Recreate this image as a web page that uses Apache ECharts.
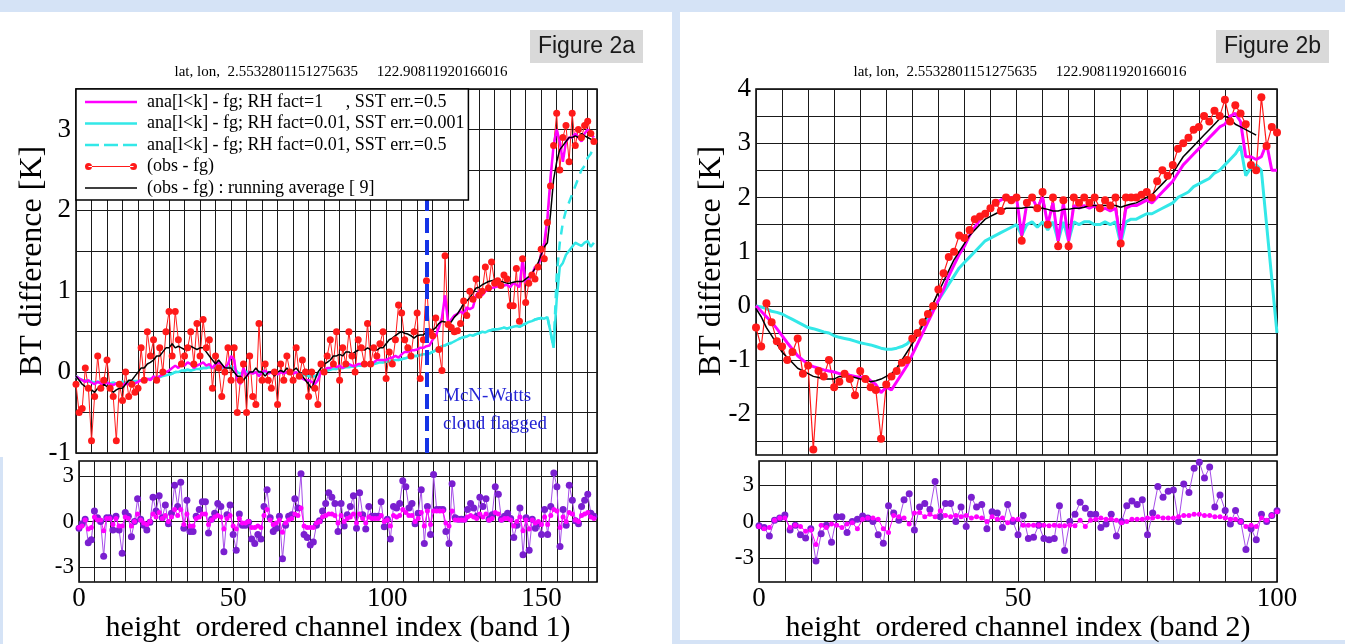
<!DOCTYPE html>
<html><head><meta charset="utf-8">
<script src="https://cdn.jsdelivr.net/npm/echarts@6/dist/echarts.min.js"></script>
<style>
html,body{margin:0;padding:0;background:#d5e3f6;overflow:hidden;}
.pan{position:absolute;background:#fff;}
#c{position:absolute;left:0;top:0;width:1345px;height:644px;}
</style>
</head><body>
<div class="pan" style="left:0;top:12px;width:672px;height:632px"></div>
<div class="pan" style="left:0;top:457px;width:3px;height:187px;background:#d5e3f6"></div>
<div class="pan" style="left:680px;top:12px;width:665px;height:628px"></div>
<div id="c"></div>
<script>
// ---------------- DATA ----------------
const titleText = 'lat, lon,  2.5532801151275635     122.90811920166016';
const yName = 'BT difference [K]';
const xNameA = 'height  ordered channel index (band 1)';
const xNameB = 'height  ordered channel index (band 2)';
const figA = 'Figure 2a', figB = 'Figure 2b';
const names = ['ana[l<k] - fg; RH fact=1     , SST err.=0.5',
               'ana[l<k] - fg; RH fact=0.01, SST err.=0.001',
               'ana[l<k] - fg; RH fact=0.01, SST err.=0.5',
               '(obs - fg)',
               '(obs - fg) : running average [ 9]'];
const flagIdxA = 113;
const flagText = 'McN-Watts\ncloud flagged';

// band 1 (top panel)
const magA = [-0.05,-0.08,-0.1,-0.12,-0.1,-0.13,-0.15,-0.12,-0.14,-0.15,
 -0.13,-0.15,-0.16,-0.14,-0.15,-0.16,-0.14,-0.15,-0.13,-0.14,
 -0.12,-0.1,-0.12,-0.08,-0.1,-0.05,-0.08,-0.05,-0.03,0.0,
 0.02,0.05,0.08,0.05,0.1,0.08,0.12,0.1,0.05,0.08,
 0.1,0.12,0.08,0.1,0.05,0.1,0.12,0.08,0.05,0.1,
 0.2,0.15,-0.1,-0.15,0.05,-0.05,0.0,-0.02,0.0,-0.05,
 0.0,0.02,-0.02,0.0,0.0,-0.03,0.0,-0.02,0.0,0.0,
 -0.02,0.0,-0.05,-0.08,-0.1,-0.1,-0.12,-0.15,-0.1,0.0,
 0.02,0.05,0.05,0.08,0.06,0.08,0.05,0.08,0.1,0.08,
 0.08,0.1,0.1,0.12,0.1,0.12,0.12,0.15,0.15,0.15,
 0.15,0.17,0.18,0.2,0.18,0.22,0.25,0.25,0.27,0.27,
 0.28,0.3,0.3,0.32,0.33,0.4,0.45,0.55,0.67,0.95,
 0.6,0.65,0.7,0.72,0.75,0.72,0.8,0.78,0.8,0.95,
 1.0,0.95,1.0,1.02,1.04,1.05,1.06,1.05,1.07,1.08,
 1.05,1.1,1.08,1.05,1.4,1.1,1.15,1.2,1.3,1.3,
 1.45,1.6,1.9,2.4,2.8,3.0,2.85,2.6,2.85,2.9,
 2.9,2.95,2.9,2.85,2.95,3.0,2.95,2.9];
const cyanA = [-0.05,-0.08,-0.1,-0.1,-0.12,-0.12,-0.13,-0.12,-0.13,-0.13,
 -0.13,-0.14,-0.13,-0.14,-0.13,-0.12,-0.13,-0.12,-0.12,-0.11,
 -0.11,-0.1,-0.1,-0.09,-0.08,-0.08,-0.06,-0.06,-0.05,-0.04,
 -0.03,-0.02,0.0,0.0,0.02,0.02,0.03,0.02,0.03,0.04,
 0.04,0.05,0.05,0.06,0.05,0.06,0.07,0.06,0.05,0.06,
 0.07,0.05,0.0,-0.02,0.0,0.0,0.0,-0.01,0.0,0.0,
 0.0,0.0,-0.01,0.0,0.0,-0.01,0.0,0.0,-0.01,0.0,
 0.0,-0.01,-0.02,-0.03,-0.04,-0.05,-0.05,-0.05,-0.03,0.0,
 0.0,0.02,0.03,0.04,0.04,0.05,0.05,0.06,0.06,0.07,
 0.07,0.08,0.08,0.09,0.09,0.1,0.1,0.11,0.12,0.12,
 0.13,0.13,0.14,0.15,0.15,0.16,0.17,0.18,0.19,0.2,
 0.2,0.21,0.22,0.22,0.23,0.25,0.27,0.3,0.32,0.33,
 0.35,0.36,0.38,0.4,0.42,0.43,0.44,0.46,0.45,0.47,
 0.48,0.5,0.49,0.51,0.52,0.53,0.53,0.54,0.55,0.54,
 0.55,0.56,0.57,0.56,0.58,0.6,0.62,0.63,0.65,0.66,
 0.67,0.66,0.68,0.5,0.3,0.9,1.3,1.35,1.45,1.5,
 1.55,1.6,1.58,1.56,1.6,1.62,1.55,1.6];
const cyanDashTailA = [0.3,1.2,1.6,1.85,2.0,2.1,2.2,2.3,2.4,2.5,2.55,2.65,2.7,2.8]; // channels 154..167
const obsA = [-0.15,-0.5,-0.45,0.05,-0.2,-0.85,-0.3,0.2,-0.2,-0.1,
 0.15,-0.2,-0.3,-0.85,-0.15,-0.35,0.0,-0.3,-0.15,-0.25,
 -0.2,0.3,-0.1,0.5,0.2,0.4,-0.1,0.3,0.0,0.5,
 0.75,0.2,0.75,0.4,0.1,0.2,0.3,0.5,0.1,0.6,
 0.2,0.65,0.3,0.4,-0.2,0.2,0.05,-0.3,0.0,0.3,
 -0.1,0.3,-0.5,-0.1,0.1,-0.5,0.2,-0.3,-0.4,0.6,
 -0.1,0.1,-0.1,-0.2,0.0,-0.4,0.1,-0.1,0.2,0.0,
 -0.1,0.3,-0.05,0.15,0.0,-0.3,0.0,-0.2,-0.4,0.1,
 0.0,0.2,0.4,0.1,0.5,-0.1,0.3,0.1,0.5,0.2,
 0.0,0.4,0.3,0.1,0.6,0.1,0.3,0.2,0.35,0.5,
 -0.08,0.25,0.1,0.4,0.83,0.73,0.4,0.3,0.2,0.5,
 0.73,-0.08,0.4,1.13,0.5,0.45,0.67,0.28,0.02,1.44,
 0.59,0.55,0.5,0.51,0.6,0.88,0.7,1.0,0.9,1.15,
 0.95,1.0,1.3,1.04,1.36,1.1,1.13,1.07,1.2,1.15,
 0.82,0.82,1.28,0.63,1.4,0.86,1.1,1.2,1.15,1.3,
 1.52,1.4,1.85,2.3,2.8,3.2,2.5,2.9,3.05,2.6,
 3.2,2.8,3.0,2.9,3.05,3.1,2.95,2.85];
const avgA = [-0.05,-0.1,-0.15,-0.18,-0.2,-0.22,-0.25,-0.2,-0.2,-0.15,
 -0.18,-0.2,-0.25,-0.22,-0.2,-0.2,-0.15,-0.1,-0.1,-0.05,
 0.0,0.05,0.05,0.1,0.12,0.15,0.2,0.2,0.25,0.3,
 0.3,0.35,0.3,0.32,0.3,0.28,0.3,0.32,0.3,0.28,
 0.3,0.3,0.25,0.2,0.15,0.1,0.15,0.1,0.05,0.05,
 0.05,0.0,-0.05,-0.05,-0.1,-0.05,0.0,0.0,0.05,0.0,
 0.0,-0.05,0.0,0.0,-0.05,0.0,0.02,0.0,0.05,0.0,
 0.02,0.05,0.0,-0.05,-0.1,-0.15,-0.2,-0.1,0.0,0.05,
 0.1,0.12,0.15,0.2,0.2,0.22,0.2,0.25,0.25,0.22,
 0.25,0.27,0.3,0.27,0.3,0.28,0.3,0.27,0.3,0.3,
 0.35,0.4,0.42,0.45,0.48,0.5,0.48,0.47,0.45,0.42,
 0.45,0.46,0.46,0.5,0.5,0.52,0.55,0.6,0.63,0.62,
 0.59,0.62,0.68,0.72,0.78,0.85,0.88,0.92,0.98,1.04,
 1.05,1.08,1.1,1.12,1.13,1.14,1.13,1.12,1.11,1.1,
 1.1,1.11,1.12,1.12,1.12,1.15,1.18,1.22,1.28,1.35,
 1.45,1.55,1.6,1.95,2.38,2.6,2.75,2.8,2.85,2.9,
 2.9,2.92,2.9,2.95,2.92,2.9,2.88,2.85];
// band 1 (lower panel)
const dObsA = [-0.45,-0.15,0.15,-1.4,-1.2,0.7,0.25,0.0,-2.3,0.25,
 0.25,-0.55,0.35,-0.55,-2.1,0.6,0.35,-1.0,0.0,1.5,
 0.15,-0.25,-0.55,-0.05,1.6,0.7,1.7,0.25,1.1,-0.15,
 0.55,2.4,1.0,2.6,-0.45,1.4,-0.65,-0.65,0.35,0.8,
 1.3,1.3,-0.75,0.15,0.55,1.2,1.0,-2.0,0.45,1.1,
 -0.85,-1.9,0.5,-0.25,-0.25,-0.05,-1.15,-1.45,-0.85,-1.15,
 1.0,2.1,0.25,-0.65,-0.45,0.35,-2.45,-0.25,0.35,0.45,
 1.5,0.9,3.15,-0.85,-1.05,-1.55,-1.35,-0.25,0.05,0.7,
 1.2,1.9,1.6,1.2,-0.65,1.2,-0.3,0.45,1.0,1.7,
 -0.45,1.9,0.45,-0.5,1.0,0.35,0.35,0.35,1.3,-0.35,
 0.15,-1.15,1.0,0.9,1.2,2.7,2.3,0.9,1.2,-0.15,
 0.55,2.1,-1.45,1.0,-0.85,3.1,0.8,0.8,0.8,-0.65,
 -1.45,2.5,0.25,0.15,0.15,0.15,0.8,1.2,0.9,0.35,
 1.6,1.0,1.5,0.15,0.45,2.3,1.8,0.15,0.35,0.55,
 0.2,-1.05,-0.25,0.9,-2.2,0.25,-1.9,0.15,-0.45,-0.15,
 -0.85,0.8,-0.85,1.0,3.2,2.3,-1.65,0.8,-0.25,2.4,
 1.4,0.05,-0.15,1.0,1.4,1.8,0.55,0.35];
const dAnaA = [-0.4,-0.3,0.1,-0.5,-0.4,0.3,0.1,0.1,-0.6,0.2,
 0.2,-0.2,0.2,-0.3,-0.3,0.3,0.2,-0.3,0.0,0.5,
 0.1,-0.1,-0.2,0.0,0.5,0.3,0.6,0.2,0.4,0.0,
 0.3,0.8,0.4,0.8,-0.2,0.5,-0.3,-0.3,0.2,0.3,
 0.5,0.5,-0.2,0.1,0.3,0.4,0.3,-0.5,0.2,0.4,
 -0.3,-0.5,0.2,-0.1,-0.1,0.0,-0.4,-0.4,-0.3,-0.4,
 0.4,0.8,0.1,-0.2,-0.1,0.1,-0.7,-0.1,0.1,0.2,
 0.5,0.4,0.9,-0.3,-0.4,-0.4,-0.4,-0.1,0.0,0.3,
 0.4,0.5,0.5,0.4,-0.1,0.4,0.0,0.2,0.3,0.5,
 -0.1,0.5,0.2,-0.1,0.3,0.2,0.2,0.2,0.4,0.0,
 0.1,-0.3,0.4,0.3,0.4,0.8,0.6,0.4,0.4,0.0,
 0.2,0.6,-0.3,0.7,-0.2,0.7,0.7,0.7,0.7,-0.1,
 -0.3,0.7,0.1,0.1,0.1,0.1,0.3,0.4,0.3,0.2,
 0.5,0.3,0.5,0.1,0.2,0.6,0.5,0.1,0.2,0.2,
 0.1,-0.3,0.0,0.3,-0.6,0.1,-0.5,0.1,-0.1,0.0,
 -0.2,0.3,-0.2,0.4,0.8,0.7,-0.4,0.3,0.0,0.6,
 0.5,0.1,0.0,0.4,0.5,0.6,0.3,0.2];

// band 2 (top panel)
const magB = [0.0,-0.1,-0.2,-0.3,-0.42,-0.55,-0.68,-0.8,-0.92,-1.0,
 -1.08,-1.12,-1.15,-1.18,-1.2,-1.22,-1.25,-1.25,-1.28,-1.3,
 -1.32,-1.3,-1.38,-1.45,-1.6,-1.5,-1.55,-1.4,-1.25,-1.1,
 -0.9,-0.7,-0.5,-0.3,-0.1,0.1,0.3,0.55,0.75,0.95,
 1.1,1.3,1.45,1.6,1.7,1.8,1.9,1.95,2.0,2.0,
 2.0,1.3,1.9,2.0,1.8,2.0,1.5,1.9,1.2,1.9,
 1.2,1.85,1.8,1.85,1.8,1.85,1.75,1.8,1.75,1.8,
 1.2,1.8,1.85,1.85,1.9,1.95,1.9,2.0,2.1,2.2,
 2.3,2.45,2.6,2.7,2.8,2.9,3.0,3.1,3.2,3.3,
 3.35,3.5,3.55,3.4,2.75,2.75,2.7,2.75,3.0,2.5,
 2.5];
const cyanB = [0.0,-0.02,-0.05,-0.1,-0.12,-0.15,-0.2,-0.25,-0.3,-0.35,
 -0.4,-0.42,-0.45,-0.48,-0.5,-0.55,-0.58,-0.6,-0.62,-0.65,
 -0.68,-0.7,-0.72,-0.75,-0.78,-0.8,-0.8,-0.78,-0.75,-0.7,
 -0.6,-0.5,-0.35,-0.2,-0.05,0.1,0.25,0.4,0.55,0.7,
 0.8,0.9,1.0,1.1,1.2,1.25,1.3,1.35,1.4,1.45,
 1.5,1.3,1.5,1.55,1.45,1.55,1.4,1.55,1.2,1.55,
 1.2,1.55,1.5,1.55,1.55,1.5,1.5,1.55,1.5,1.55,
 1.15,1.55,1.6,1.6,1.65,1.7,1.7,1.75,1.8,1.85,
 1.9,2.0,2.05,2.1,2.2,2.25,2.3,2.35,2.45,2.5,
 2.6,2.7,2.8,2.95,2.4,2.55,2.6,2.5,1.5,0.5,
 -0.5];
const obsB = [-0.4,-0.75,0.05,-0.3,-0.65,-0.75,-1.0,-0.85,-0.6,-1.25,
 -1.1,-2.65,-1.2,-1.3,-1.0,-1.5,-1.4,-1.25,-1.35,-1.65,
 -1.2,-1.35,-1.5,-1.55,-2.45,-1.45,-1.3,-1.2,-1.05,-1.0,
 -0.6,-0.5,-0.3,-0.15,0.0,0.3,0.6,0.9,1.0,1.3,
 1.25,1.4,1.6,1.65,1.7,1.8,1.9,1.75,2.0,1.95,
 2.0,1.2,1.9,2.0,1.8,2.1,1.5,2.0,1.1,1.95,
 1.1,2.0,1.9,2.0,1.9,2.0,1.8,1.95,1.85,2.0,
 1.15,2.0,2.0,2.0,2.05,2.1,2.0,2.3,2.5,2.4,
 2.6,2.9,3.0,3.1,3.25,3.3,3.5,3.4,3.6,3.5,
 3.8,3.4,3.7,3.55,3.35,2.6,2.5,3.85,2.95,3.3,
 3.2];
const avgB = [-0.05,-0.2,-0.4,-0.55,-0.7,-0.85,-0.95,-1.05,-1.15,-1.2,
 -1.25,-1.3,-1.32,-1.35,-1.35,-1.35,-1.3,-1.3,-1.3,-1.32,
 -1.35,-1.35,-1.4,-1.38,-1.35,-1.3,-1.25,-1.15,-1.0,-0.85,
 -0.7,-0.55,-0.35,-0.15,0.05,0.25,0.45,0.65,0.85,1.0,
 1.15,1.3,1.4,1.5,1.6,1.65,1.7,1.75,1.8,1.8,
 1.8,1.8,1.82,1.82,1.8,1.8,1.78,1.75,1.75,1.78,
 1.78,1.8,1.8,1.82,1.85,1.85,1.85,1.85,1.85,1.85,
 1.82,1.85,1.88,1.9,1.95,2.0,2.05,2.15,2.25,2.35,
 2.45,2.6,2.75,2.85,2.95,3.05,3.15,3.25,3.35,3.45,
 3.5,3.45,3.35,3.3,3.25,3.2,3.15];
// band 2 (lower panel)
const dObsB = [-0.35,-0.5,-1.2,0.1,0.3,0.55,-0.7,-0.3,-1.1,-1.35,
 -0.6,-3.25,-1.0,-0.3,-1.7,0.4,0.4,-0.9,0.0,0.2,
 0.45,0.3,0.0,-1.1,-1.8,1.3,0.7,0.1,1.8,2.3,
 -0.7,1.2,1.5,1.0,3.3,0.4,1.5,1.5,0.0,1.2,
 -0.4,2.0,1.2,1.4,-0.6,0.8,0.7,-0.5,1.4,0.0,
 -1.1,0.5,-1.4,-1.3,-0.3,-1.4,-1.5,-1.4,1.3,-2.4,
 0.0,0.6,1.6,1.1,0.6,0.6,-0.5,-0.2,0.6,-1.2,
 0.0,1.3,1.7,1.4,1.8,-1.1,0.7,2.9,2.0,2.5,
 2.6,0.0,3.1,2.4,4.4,4.9,3.6,4.5,1.2,2.2,
 0.92,-0.2,0.92,0.0,-2.3,-0.6,-1.5,0.6,0.0,0.5,
 0.9];
const dAnaB = [-0.4,-0.6,-0.5,0.1,0.3,0.3,-0.5,-0.3,-0.4,-0.8,
 -0.7,-1.9,-0.3,-0.5,-0.2,-0.3,-0.5,-0.2,-0.1,-0.6,
 0.2,0.3,0.3,0.2,-0.6,-0.9,0.5,0.4,0.3,-0.2,
 0.7,0.75,0.4,0.6,0.4,0.9,0.5,0.4,0.5,0.4,
 0.5,0.3,0.4,0.3,0.0,0.4,0.2,0.3,-0.1,0.2,
 0.2,-0.3,-0.3,-0.3,-0.3,-0.3,-0.35,-0.3,-0.35,-0.35,
 -0.3,-0.35,0.1,-0.4,0.1,0.2,0.3,0.2,0.2,0.1,
 -0.1,0.0,0.2,0.2,0.2,0.3,0.3,0.4,0.3,0.3,
 0.3,0.4,0.5,0.5,0.6,0.6,0.5,0.5,0.4,0.4,
 0.3,0.2,0.2,0.0,-0.4,-0.3,-0.4,0.3,0.1,0.5,
 0.8];

// ---------------- CHART ----------------
const SERIF = 'Liberation Serif';
const pairs = (arr, off) => arr.map((v, i) => [i + (off || 0), v]);
const cyanDashA = cyanA.slice(0, 154).concat(cyanDashTailA);
const isInt = v => Math.abs(v - Math.round(v)) < 1e-6;

function xAx(grid, max, showLab, name) {
  return {type: 'value', gridIndex: grid, min: 0, max: max, interval: 5,
    axisLine: {show: false}, axisTick: {show: false},
    axisLabel: {show: showLab, margin: 3, fontFamily: SERIF, fontSize: 27, color: '#000',
      formatter: v => (Math.round(v) % 50 === 0 && isInt(v)) ? String(Math.round(v)) : ''},
    splitLine: {show: true, lineStyle: {color: '#1a1a1a', width: 1}},
    name: name || '', nameLocation: 'middle', nameGap: 26,
    nameTextStyle: {fontFamily: SERIF, fontSize: 30, color: '#000'}};
}
function yAx(grid, min, max, interval, colors, labFn, fs) {
  return {type: 'value', gridIndex: grid, min: min, max: max, interval: interval,
    axisLine: {show: false}, axisTick: {show: false},
    axisLabel: {margin: 5, fontFamily: SERIF, fontSize: fs, color: '#000', formatter: labFn},
    splitLine: {show: true, lineStyle: {color: colors, width: 1}}};
}
const intLab = v => isInt(v) ? String(Math.round(v)) : '';
const threeLab = v => (isInt(v) && Math.round(v) % 3 === 0) ? String(Math.round(v)) : '';

const gridStyle = {show: true, borderColor: '#000', borderWidth: 1.5, backgroundColor: '#fff'};
const MAG = '#ff00ff', CYAN = '#33e8e8', RED = '#ff1a1a', BLK = '#000';
const PURP = '#7a1fd0', PURPL = '#a64ee8';

function line(name, data, xi, color, w, extra) {
  return Object.assign({type: 'line', name: name, xAxisIndex: xi, yAxisIndex: xi, data: data,
    symbol: 'none', lineStyle: {color: color, width: w}, itemStyle: {color: color},
    animation: false, silent: true}, extra || {});
}

const series = [
  line(names[2], pairs(cyanDashA), 0, CYAN, 2.5, {lineStyle: {color: CYAN, width: 2.5, type: [9, 7]}}),
  line(names[1], pairs(cyanA), 0, CYAN, 2.5),
  line(names[3], pairs(obsA), 0, RED, 1, {symbol: 'circle', symbolSize: 7,
    markLine: {silent: true, symbol: 'none', label: {show: false},
      lineStyle: {color: '#1533e6', width: 4, type: [15, 7]}, data: [{xAxis: flagIdxA}]}}),
  line(names[0], pairs(magA), 0, MAG, 2.5),
  line(names[4], pairs(avgA), 0, BLK, 1.5),
  line('dObsA', pairs(dObsA), 1, PURPL, 1, {symbol: 'circle', symbolSize: 7, itemStyle: {color: PURP}}),
  line('dAnaA', pairs(dAnaA), 1, MAG, 1, {symbol: 'circle', symbolSize: 5}),
  line(names[1], pairs(cyanB), 2, CYAN, 3),
  line(names[3], pairs(obsB), 2, RED, 1.2, {symbol: 'circle', symbolSize: 8}),
  line(names[0], pairs(magB), 2, MAG, 3),
  line(names[4], pairs(avgB), 2, BLK, 1.5),
  line('dObsB', pairs(dObsB), 3, PURPL, 1, {symbol: 'circle', symbolSize: 7, itemStyle: {color: PURP}}),
  line('dAnaB', pairs(dAnaB), 3, MAG, 1, {symbol: 'circle', symbolSize: 5})
];

// legend icons (57 x 14 box; tiny corner marks fix the box)
const CORN = 'M0,0h0.01v0.01h-0.01z M56.99,13.99h0.01v0.01h-0.01z ';
const icons = [
  'path://' + CORN + 'M0,5.75h52v2.5h-52z',
  'path://' + CORN + 'M0,5.75h52v2.5h-52z',
  'path://' + CORN + 'M0,5.75h14v2.5h-14z M19,5.75h14v2.5h-14z M38,5.75h14v2.5h-14z',
  'path://' + CORN + 'M0,7a3.5,3.5 0 1 0 7,0a3.5,3.5 0 1 0 -7,0z M45,7a3.5,3.5 0 1 0 7,0a3.5,3.5 0 1 0 -7,0z M3.5,6.5h45v1h-45z',
  'path://' + CORN + 'M0,6.25h52v1.5h-52z'
];

function figBox(x, y, w, h, txt) {
  return {type: 'group', z: 50, children: [
    {type: 'rect', shape: {x: x, y: y, width: w, height: h}, style: {fill: '#d9d9d9'}},
    {type: 'text', x: x + w / 2, y: y + h / 2, style: {text: txt, font: '23px "Liberation Sans"',
      fill: '#1a1a1a', textAlign: 'center', textVerticalAlign: 'middle', verticalAlign: 'middle'}}]};
}
function txt(x, y, t, font, fill, rot, align) {
  return {type: 'text', z: 50, x: x, y: y, rotation: rot || 0,
    style: {text: t, font: font, fill: fill, textAlign: align || 'center',
      textVerticalAlign: 'middle', verticalAlign: 'middle'}};
}

const option = {
  animation: false,
  grid: [
    Object.assign({left: 76, top: 89, width: 521, height: 364}, gridStyle),
    Object.assign({left: 79, top: 461, width: 518, height: 129}, gridStyle),
    Object.assign({left: 756, top: 89, width: 521, height: 366}, gridStyle),
    Object.assign({left: 759, top: 461, width: 518, height: 129}, gridStyle)
  ],
  xAxis: [xAx(0, 168, false), xAx(1, 168, true, xNameA), xAx(2, 100, false), xAx(3, 100, true, xNameB)],
  yAxis: [
    yAx(0, -1, 3.5, 0.5, '#1a1a1a', intLab, 27),
    yAx(1, -4, 4, 1, ['transparent', '#1a1a1a', 'transparent'], threeLab, 23),
    yAx(2, -2.75, 4, 0.25, ['transparent', '#1a1a1a'], intLab, 27),
    yAx(3, -5, 5, 1, ['transparent', 'transparent', '#1a1a1a'], threeLab, 23)
  ],
  legend: {data: names.map((n, k) => ({name: n, icon: icons[k]})), orient: 'vertical', left: 76, top: 89,
    itemWidth: 57, itemHeight: 14, itemGap: 3.5, padding: [4, 4, 3, 9], z: 20,
    backgroundColor: '#fff', borderColor: '#000', borderWidth: 1.5, selectedMode: false,
    itemStyle: {borderWidth: 0}, lineStyle: {width: 0},
    textStyle: {fontFamily: SERIF, fontSize: 18, color: '#000', lineHeight: 18}},
  series: series,
  graphic: [
    figBox(530, 30, 113, 33, figA),
    figBox(1216, 30, 113, 33, figB),
    txt(341, 72, titleText, '15px "Liberation Serif"', '#000'),
    txt(1020, 72, titleText, '15px "Liberation Serif"', '#000'),
    txt(33, 261, yName, '32px "Liberation Serif"', '#000', Math.PI / 2),
    txt(712, 261, yName, '32px "Liberation Serif"', '#000', Math.PI / 2),
    {type: 'text', z: 50, x: 443, y: 382, style: {text: flagText, font: '19px "Liberation Serif"',
      fill: '#2626d6', lineHeight: 28, textAlign: 'left', textVerticalAlign: 'top', verticalAlign: 'top'}}
  ]
};
const chart = echarts.init(document.getElementById('c'));
chart.setOption(option);
</script>
</body></html>
